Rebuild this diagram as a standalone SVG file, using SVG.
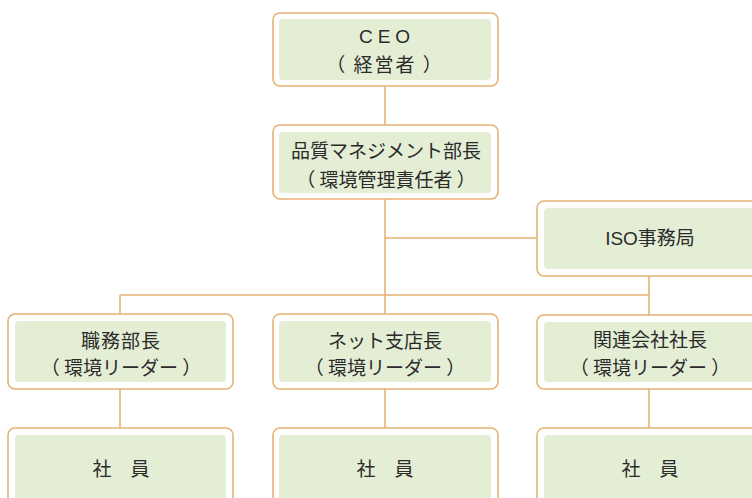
<svg xmlns="http://www.w3.org/2000/svg" width="752" height="498" viewBox="0 0 752 498">
<style>
.outer{fill:#fff;stroke:#E6B275;stroke-width:1.6}
.inner{fill:#E4EED5}
.t{font-family:"Noto Sans CJK JP","Liberation Sans",sans-serif;font-size:19px;fill:#2b2b2b;text-anchor:middle;dominant-baseline:central}
.l{font-family:"Liberation Sans","Noto Sans CJK JP",sans-serif}
.line{stroke:#E6B275;stroke-width:1.6;fill:none}
</style>
<rect width="752" height="498" fill="#fff"/>
<g id="connectors">
<path class="line" d="M385 86V125M385 199V315M385 238H537M120 295H649M120 295V314M649 276V315M120 389V428M385 389V428M649 389V428"/>
</g>
<g id="ceo">
<rect class="outer" x="273" y="13" width="225" height="73" rx="7"/>
<rect class="inner" x="279" y="19" width="212" height="61" rx="4"/>
<text class="t l" x="387" y="36" font-size="18" letter-spacing="5">CEO</text>
<text class="t" x="385" y="63" font-size="18" letter-spacing="2">（ 経営者 ）</text>
</g>
<g id="qm">
<rect class="outer" x="273" y="125" width="225" height="74" rx="7"/>
<rect class="inner" x="279" y="132" width="212" height="61" rx="4"/>
<text class="t" x="386" y="149">品質マネジメント部長</text>
<text class="t" x="386" y="178">（ 環境管理責任者 ）</text>
</g>
<g id="iso">
<rect class="outer" x="537" y="201" width="230" height="75" rx="7"/>
<rect class="inner" x="544" y="208" width="220" height="61" rx="4"/>
<text class="t l" x="650" y="238">ISO事務局</text>
</g>
<g id="shokumu">
<rect class="outer" x="8" y="314" width="225" height="75" rx="7"/>
<rect class="inner" x="15" y="321" width="211" height="61" rx="4"/>
<text class="t" x="121" y="339" letter-spacing="1">職務部長</text>
<text class="t" x="121" y="366">（ 環境リーダー ）</text>
</g>
<g id="net">
<rect class="outer" x="273" y="314" width="225" height="75" rx="7"/>
<rect class="inner" x="279" y="321" width="212" height="61" rx="4"/>
<text class="t" x="385" y="339">ネット支店長</text>
<text class="t" x="385" y="366">（ 環境リーダー ）</text>
</g>
<g id="kanren">
<rect class="outer" x="537" y="315" width="230" height="74" rx="7"/>
<rect class="inner" x="544" y="322" width="220" height="60" rx="4"/>
<text class="t" x="650" y="338">関連会社社長</text>
<text class="t" x="650" y="366">（ 環境リーダー ）</text>
</g>
<g id="shain1">
<rect class="outer" x="8" y="428" width="225" height="90" rx="7"/>
<rect class="inner" x="15" y="435" width="211" height="80" rx="4"/>
<text class="t" x="121" y="467">社　員</text>
</g>
<g id="shain2">
<rect class="outer" x="273" y="428" width="225" height="90" rx="7"/>
<rect class="inner" x="279" y="435" width="212" height="80" rx="4"/>
<text class="t" x="385" y="467">社　員</text>
</g>
<g id="shain3">
<rect class="outer" x="537" y="428" width="230" height="90" rx="7"/>
<rect class="inner" x="544" y="435" width="220" height="80" rx="4"/>
<text class="t" x="650" y="467">社　員</text>
</g>
</svg>
